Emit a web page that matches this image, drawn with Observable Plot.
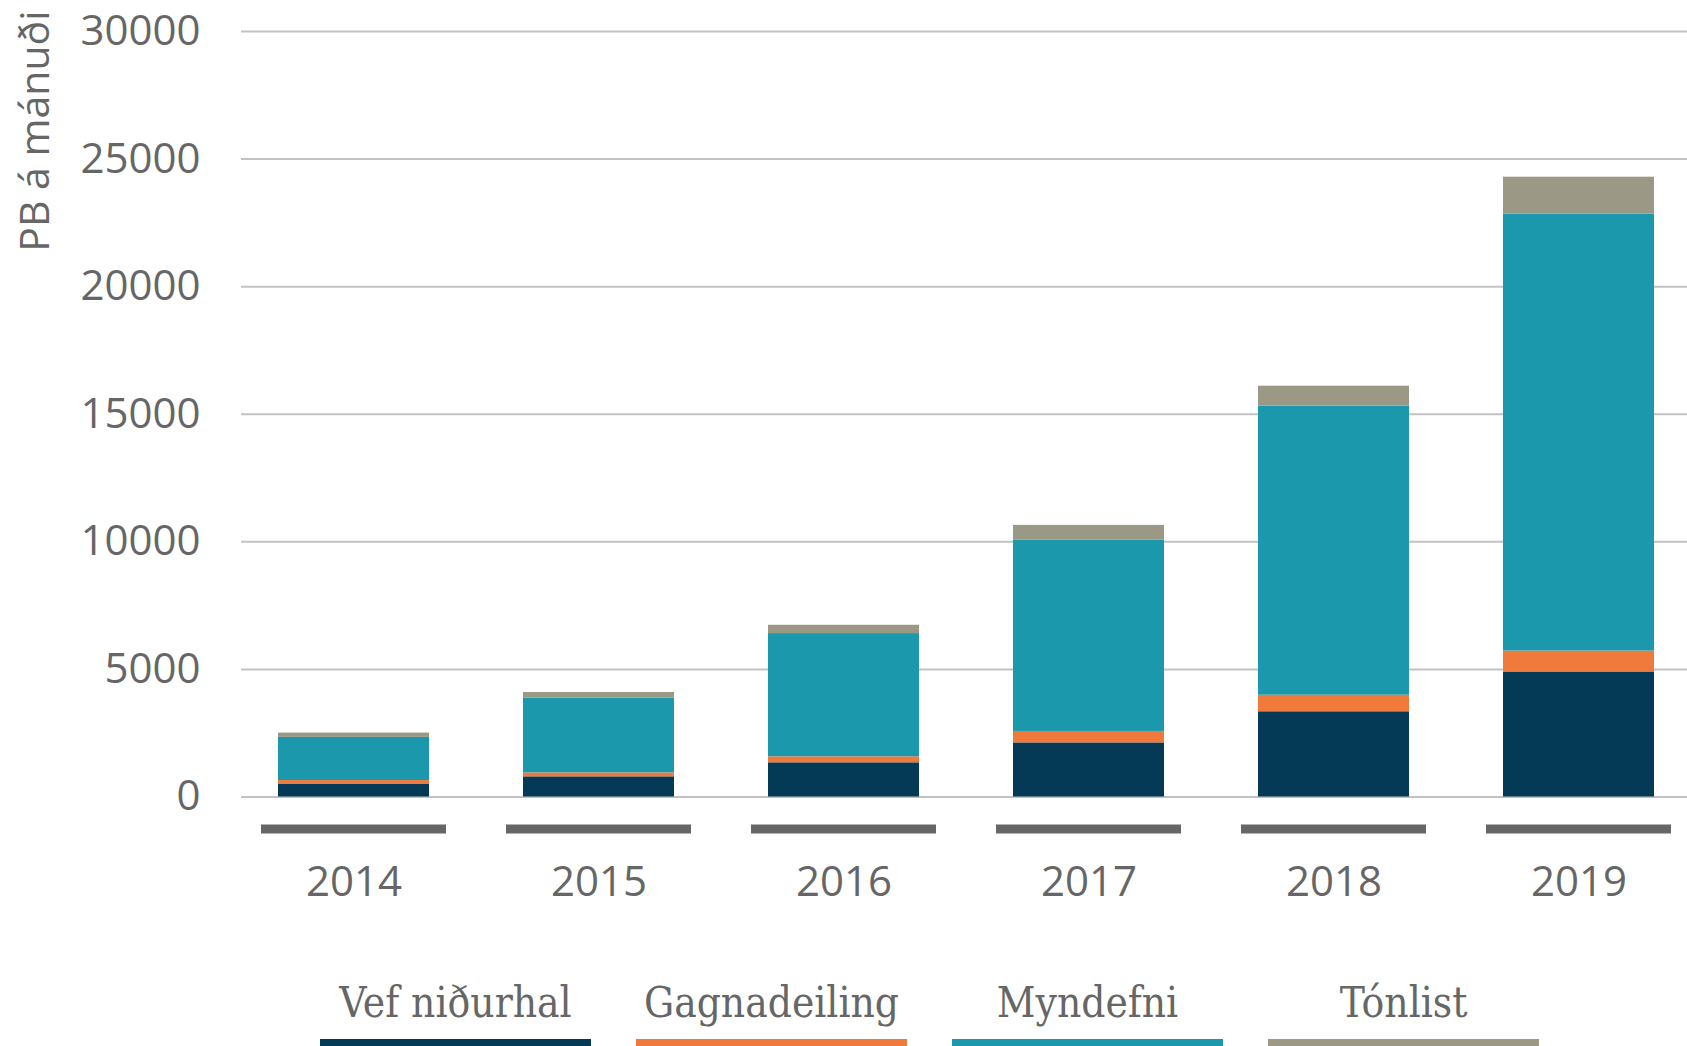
<!DOCTYPE html>
<html>
<head>
<meta charset="utf-8">
<script src="https://cdn.jsdelivr.net/npm/d3@7"></script>
<script src="https://cdn.jsdelivr.net/npm/@observablehq/plot@0.6"></script>
<style>
  html, body { margin: 0; padding: 0; background: #fff; }
  #wrap { position: relative; width: 1687px; height: 1046px; overflow: hidden; }
  #chart { position: absolute; left: 0; top: 0; }
  #legend { position: absolute; left: 320px; top: 975px; display: flex; gap: 45px; }
  .item { width: 271px; display: flex; flex-direction: column; align-items: center; }
  .item span { font-family: "DejaVu Serif Condensed", "DejaVu Serif", serif; font-size: 42px; line-height: 56px; height: 56px; color: #666; white-space: nowrap; }
  .item i { display: block; width: 271px; height: 10px; margin-top: 8px; }
</style>
</head>
<body>
<div id="wrap">
  <div id="chart"></div>
  <div id="legend"></div>
</div>
<script>
const years = ["2014", "2015", "2016", "2017", "2018", "2019"];
const series = ["Vef niðurhal", "Gagnadeiling", "Myndefni", "Tónlist"];
const vefNidurhal = [490, 790, 1340, 2120, 3340, 4900];
const gagnadeiling = [155, 155, 235, 450, 650, 820];
const myndefni = [1690, 2930, 4830, 7490, 11330, 17120];
const tonlist = [170, 220, 325, 585, 780, 1450];
const colors = ["#053a57", "#f07a3c", "#1b98ac", "#9b9986"];
const yTicks = [0, 5000, 10000, 15000, 20000, 25000, 30000];
const yLabel = "PB á mánuði";

const seriesValues = [vefNidurhal, gagnadeiling, myndefni, tonlist];
const data = [];
series.forEach((s, i) => {
  years.forEach((y, j) => data.push({year: y, series: s, value: seriesValues[i][j]}));
});

const chart = Plot.plot({
  width: 1687,
  height: 920,
  marginLeft: 241,
  marginRight: -4,
  marginTop: 31,
  marginBottom: 123.5,
  style: {fontFamily: "'Open Sans', sans-serif", fontSize: "42px", color: "#666", background: "transparent", overflow: "hidden"},
  x: {domain: years, paddingInner: 0.384, paddingOuter: 0.15, axis: null, label: null},
  y: {domain: [0, 30000], axis: null, label: null},
  color: {domain: series, range: colors},
  marks: [
    Plot.ruleY(yTicks, {stroke: "#c2c2c2", strokeWidth: 2}),
    Plot.barY(data, {x: "year", y: "value", fill: "series"}),
    Plot.tickY(years, {x: d => d, y: d => 0, dy: 32, stroke: "#666", strokeWidth: 9, insetLeft: -17, insetRight: -17}),
    Plot.axisY({ticks: yTicks, tickSize: 0, tickPadding: 41, tickFormat: d => String(d), label: null, fill: "#666"}),
    Plot.axisX({tickSize: 0, tickPadding: 69, label: null, fill: "#666"}),
    Plot.text([yLabel], {frameAnchor: "top-left", rotate: -90, textAnchor: "end", lineAnchor: "middle", dx: -206, dy: -21, fontSize: 41, fill: "#666"})
  ]
});
document.getElementById("chart").appendChild(chart);

const legend = document.getElementById("legend");
series.forEach((s, i) => {
  const item = document.createElement("div");
  item.className = "item";
  const label = document.createElement("span");
  label.textContent = s;
  const sw = document.createElement("i");
  sw.style.background = colors[i];
  item.appendChild(label);
  item.appendChild(sw);
  legend.appendChild(item);
});
</script>
</body>
</html>
